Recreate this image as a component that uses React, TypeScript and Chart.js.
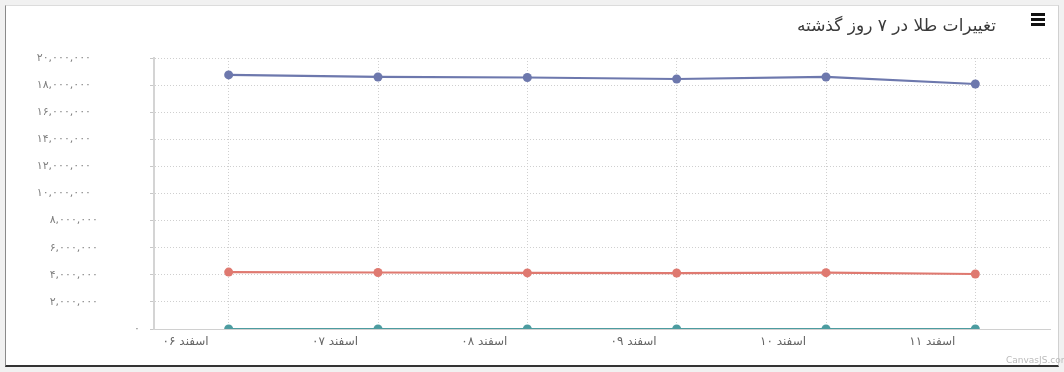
import React, { useEffect, useRef } from "react";
import { Chart, registerables } from "chart.js";

Chart.register(...registerables);

const chartTitle = "تغییرات طلا در ۷ روز گذشته";
const categories = ["۰۶ اسفند", "۰۷ اسفند", "۰۸ اسفند", "۰۹ اسفند", "۱۰ اسفند", "۱۱ اسفند"];
const seriesNames = ["سکه امامی", "مثقال طلا", "انس طلا"];
const coinValues = [18750000, 18600000, 18560000, 18450000, 18600000, 18080000];
const mesghalValues = [4200000, 4170000, 4140000, 4130000, 4160000, 4060000];
const ounceValues = [1806, 1775, 1769, 1734, 1714, 1727];
const yTickValues = [0, 2000000, 4000000, 6000000, 8000000, 10000000, 12000000, 14000000, 16000000, 18000000, 20000000];
const yTickLabels = ["۰", "۲,۰۰۰,۰۰۰", "۴,۰۰۰,۰۰۰", "۶,۰۰۰,۰۰۰", "۸,۰۰۰,۰۰۰", "۱۰,۰۰۰,۰۰۰", "۱۲,۰۰۰,۰۰۰", "۱۴,۰۰۰,۰۰۰", "۱۶,۰۰۰,۰۰۰", "۱۸,۰۰۰,۰۰۰", "۲۰,۰۰۰,۰۰۰"];
const seriesColors = ["#6D78AD", "#DF7970", "#4C9CA0"];

const FONT = "'DejaVu Sans', sans-serif";
const FS = "\u2007";

// trailing figure spaces reproduce the original's label shift
const padLabel = (s: string) => {
  const digits = s.replace(/,/g, "").length;
  return s + FS.repeat(Math.max(0, digits - 1));
};

export default function App() {
  const canvasRef = useRef<HTMLCanvasElement | null>(null);

  useEffect(() => {
    document.body.style.margin = "0";
    const canvas = canvasRef.current;
    if (!canvas) return;
    const values = [coinValues, mesghalValues, ounceValues];
    const chart = new Chart(canvas, {
      type: "line",
      data: {
        labels: categories,
        datasets: values.map((v, i) => ({
          label: seriesNames[i],
          data: v,
          borderColor: seriesColors[i],
          backgroundColor: seriesColors[i],
          pointBackgroundColor: seriesColors[i],
          pointBorderColor: seriesColors[i],
          borderWidth: 2.2,
          pointRadius: 4.5,
          pointBorderWidth: 0,
          tension: 0,
          fill: false,
        })),
      },
      options: {
        animation: false,
        responsive: false,
        maintainAspectRatio: false,
        layout: { padding: { top: 0, right: 14, bottom: 0, left: 0 } },
        plugins: {
          legend: { display: false },
          tooltip: { enabled: false },
          title: {
            display: true,
            text: chartTitle + FS.repeat(5),
            align: "end",
            color: "#3a3a3a",
            font: { family: FONT, size: 17, weight: "normal" },
            padding: { top: 16, bottom: 21.6 },
          },
        },
        scales: {
          x: {
            type: "category",
            offset: true,
            afterFit: (s: any) => { s.height = 43; },
            grid: {
              display: true,
              offset: false,
              color: "#cfcfcf",
              drawTicks: false,
            },
            border: { display: true, color: "#d0d0d0", width: 1, dash: [1, 2] },
            ticks: {
              color: "#666",
              font: { family: FONT, size: 12 },
              padding: 6,
              labelOffset: -43,
              maxRotation: 0,
              autoSkip: false,
            },
          },
          y: {
            min: 0,
            max: 20000000,
            afterFit: (s: any) => { s.width = 154; },
            afterBuildTicks: (s: any) => { s.ticks = yTickValues.map((v) => ({ value: v })); },
            grid: {
              color: "#cfcfcf",
              tickLength: 4,
              tickColor: "#c8c8c8",
              tickBorderDash: [],
              drawTicks: true,
            },
            border: { display: true, color: "#d4d4d4", width: 2, dash: [1, 2] },
            ticks: {
              color: "#808080",
              font: { family: FONT, size: 11 },
              padding: 10,
              callback: (_v: any, i: number) => padLabel(yTickLabels[i]),
            },
          },
        },
      },
    });
    return () => chart.destroy();
  }, []);

  return (
    <div style={{ position: "relative", width: 1064, height: 372, background: "#f1f1f1", overflow: "hidden" }}>
      <div
        style={{
          position: "absolute", left: 5, top: 5, width: 1054, height: 362, boxSizing: "border-box",
          background: "#fff", borderLeft: "1px solid #8a8a8a", borderTop: "1px solid #dcdcdc",
          borderRight: "1px solid #d0d0d0", borderBottom: "2px solid #333",
        }}
      />
      <canvas ref={canvasRef} width={1064} height={372} style={{ position: "absolute", left: 0, top: 0, width: 1064, height: 372, direction: "ltr" }} />
      <div style={{ position: "absolute", left: 1031, top: 13, width: 14 }}>
        <div style={{ height: 2.5, background: "#111", marginBottom: 2.5 }} />
        <div style={{ height: 2.5, background: "#111", marginBottom: 2.5 }} />
        <div style={{ height: 2.5, background: "#111" }} />
      </div>
      <div style={{ position: "absolute", left: 1006, top: 355, fontFamily: "'DejaVu Sans', sans-serif", fontSize: 9, color: "#bbb" }}>CanvasJS.com</div>
    </div>
  );
}
